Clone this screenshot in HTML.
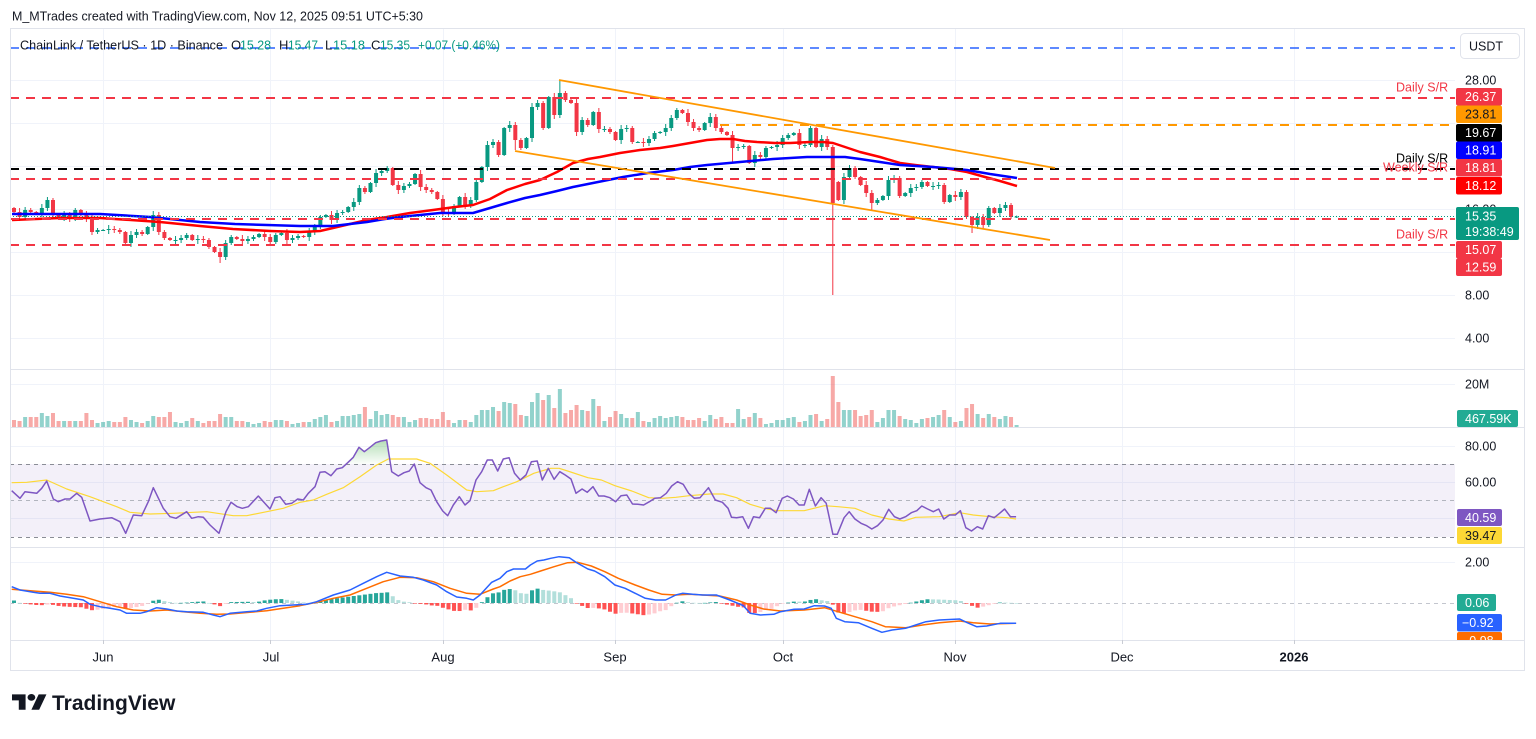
<!DOCTYPE html>
<html><head><meta charset="utf-8">
<style>
html,body{margin:0;padding:0;background:#fff;}
body{width:1536px;height:734px;overflow:hidden;}
svg text{font-family:"Liberation Sans",Arial,sans-serif;}
</style></head><body>
<svg id="s" width="1536" height="734" viewBox="0 0 1536 734" xmlns="http://www.w3.org/2000/svg">
<defs>
<linearGradient id="ob" gradientUnits="userSpaceOnUse" x1="0" y1="438" x2="0" y2="464">
<stop offset="0" stop-color="#4caf50" stop-opacity="0.45"/><stop offset="1" stop-color="#4caf50" stop-opacity="0.02"/>
</linearGradient>
<clipPath id="plot"><rect x="10" y="28" width="1445" height="612"/></clipPath>
<clipPath id="axclip"><rect x="1455" y="28" width="70" height="612"/></clipPath>
</defs>
<rect width="1536" height="734" fill="#fff"/>

<!-- grid -->
<g stroke="#f0f3fa" stroke-width="1">
<path d="M103.5 28V640M270.5 28V640M443.5 28V640M615.5 28V640M783.5 28V640M955.5 28V640M1122.5 28V640M1294.5 28V640"/>
<path d="M10 80.5H1455M10 123.5H1455M10 166.5H1455M10 209.5H1455M10 252.5H1455M10 295.5H1455M10 338.5H1455M10 384.5H1455M10 446.5H1455M10 482.5H1455M10 518.5H1455M10 562.5H1455"/>
</g>
<!-- RSI band -->
<rect x="10" y="464" width="1445" height="73" fill="rgba(126,87,194,0.09)"/>
<g stroke-width="1" stroke-dasharray="4 4">
<line x1="10" y1="464.5" x2="1455" y2="464.5" stroke="#8a8d96"/>
<line x1="10" y1="500.5" x2="1455" y2="500.5" stroke="#b2b5be"/>
<line x1="10" y1="537.5" x2="1455" y2="537.5" stroke="#8a8d96"/>
<line x1="10" y1="603.5" x2="1455" y2="603.5" stroke="#c3c6ce"/>
</g>

<g id="vol"></g>
<g id="candles" clip-path="url(#plot)"></g>

<!-- moving averages -->
<polyline fill="none" stroke="#ff0000" stroke-width="2.5" stroke-linejoin="round" points="12,220 60,218 100,218 160,222 200,226 233,229 270,231 300,232 320,231 333,228 350,224 367,220 387,217 410,213 433,210 455,207 473,205 490,199 507,190 525,184 540,180 557,172 573,163 588,159 600,157 620,153 640,150 660,148 673,146 690,143 707,140 720,139 733,139 745,141 757,142 775,143 790,143 810,142 823,142 833,143 845,147 860,152 880,157 900,163 915,165 933,167 950,169 967,172 985,177 1000,181 1017,186"/>
<polyline fill="none" stroke="#0000ff" stroke-width="2.5" stroke-linejoin="round" points="12,214 60,214 100,214 150,217 200,222 235,224 267,225 300,226 333,226 350,224 367,222 385,219 400,217 420,215 440,213 473,213 490,208 507,203 525,198 540,195 557,191 573,187 598,182 623,177 648,173 673,170 690,167 707,165 740,162 773,159 807,157 830,157 845,157 860,159 880,162 900,165 933,167 967,170 990,174 1017,178"/>

<!-- drawings -->
<g stroke-width="2" stroke-dasharray="9 7" fill="none">
<line x1="10" y1="48" x2="1455" y2="48" stroke="#2962ff" stroke-width="1.6"/>
<line x1="10" y1="98" x2="1455" y2="98" stroke="#f23645"/>
<line x1="720" y1="125" x2="1455" y2="125" stroke="#ff9800"/>
<line x1="10" y1="169" x2="1455" y2="169" stroke="#000"/>
<line x1="10" y1="179" x2="1455" y2="179" stroke="#f23645"/>
<line x1="10" y1="219" x2="1455" y2="219" stroke="#f23645"/>
<line x1="10" y1="245" x2="1455" y2="245" stroke="#f23645"/>
</g>
<line x1="10" y1="216.5" x2="1455" y2="216.5" stroke="#089981" stroke-width="1" stroke-dasharray="1 2"/>
<line x1="559" y1="80" x2="1055" y2="168" stroke="#ff9800" stroke-width="1.8"/>
<line x1="515" y1="151" x2="1050" y2="240" stroke="#ff9800" stroke-width="1.8"/>

<!-- RSI overbought fill -->
<polygon fill="url(#ob)" points="346.5,464 348,462.7 353.3,457.3 359,447.3 364.3,451.7 370,447.3 375.7,442.7 381,441 386.7,440 390.5,464"/>
<g id="ind"></g>

<!-- frame -->
<g stroke="#e0e3eb" stroke-width="1" fill="none">
<path d="M10 28.5H1524.5V670.5H10.5V28.5"/>
<path d="M10 369.5H1524M10 427.5H1524M10 547.5H1524M10 640.5H1524"/>
</g>
<g stroke="#c9ccd4" stroke-width="1">
<path d="M103.5 640v4M270.5 640v4M443.5 640v4M615.5 640v4M783.5 640v4M955.5 640v4M1122.5 640v4M1294.5 640v4"/>
</g>

<!-- header -->
<text x="12" y="20.5" font-size="13" fill="#131722" textLength="411" lengthAdjust="spacingAndGlyphs">M_MTrades created with TradingView.com, Nov 12, 2025 09:51 UTC+5:30</text>
<g font-size="13">
<text x="20" y="49.5" fill="#131722" textLength="203" lengthAdjust="spacingAndGlyphs">ChainLink / TetherUS · 1D · Binance</text>
<text x="231" y="49.5" fill="#131722">O</text>
<text x="240" y="49.5" fill="#089981" textLength="31" lengthAdjust="spacingAndGlyphs">15.28</text>
<text x="279" y="49.5" fill="#131722">H</text>
<text x="288" y="49.5" fill="#089981" textLength="30" lengthAdjust="spacingAndGlyphs">15.47</text>
<text x="325" y="49.5" fill="#131722">L</text>
<text x="333" y="49.5" fill="#089981" textLength="32" lengthAdjust="spacingAndGlyphs">15.18</text>
<text x="371" y="49.5" fill="#131722">C</text>
<text x="380" y="49.5" fill="#089981" textLength="30" lengthAdjust="spacingAndGlyphs">15.35</text>
<text x="418" y="49.5" fill="#089981" textLength="82" lengthAdjust="spacingAndGlyphs">+0.07 (+0.46%)</text>
</g>

<!-- drawing labels -->
<g font-size="12.5">
<text x="1396" y="91.5" fill="#f23645">Daily S/R</text>
<text x="1396" y="162.5" fill="#000">Daily S/R</text>
<text x="1383" y="171.5" fill="#f23645">Weekly S/R</text>
<text x="1396" y="238.5" fill="#f23645">Daily S/R</text>
</g>

<!-- axis -->
<rect x="1460.5" y="33.5" width="59" height="25" rx="4" fill="#fff" stroke="#e0e3eb"/>
<text x="1469" y="50.5" font-size="12.5" fill="#131722">USDT</text>
<g font-size="12.5" fill="#131722">
<text x="1465" y="84.5">28.00</text>
<text x="1465" y="213.5">16.00</text>
<text x="1465" y="299.5">8.00</text>
<text x="1465" y="342.5">4.00</text>
<text x="1465" y="388.5">20M</text>
<text x="1465" y="450.5">80.00</text>
<text x="1465" y="486.5">60.00</text>
<text x="1465" y="566.5">2.00</text>
</g>
<g font-size="12.5">
<rect x="1456" y="88" width="46" height="17.5" rx="2" fill="#f23645"/><text x="1465" y="101" fill="#fff">26.37</text>
<rect x="1456" y="105.5" width="46" height="17.5" rx="2" fill="#ff9800"/><text x="1465" y="118.5" fill="#131722">23.81</text>
<rect x="1456" y="124" width="46" height="17.5" rx="2" fill="#000"/><text x="1465" y="137" fill="#fff">19.67</text>
<rect x="1456" y="141.5" width="46" height="17.5" rx="2" fill="#0000ff"/><text x="1465" y="154.5" fill="#fff">18.91</text>
<rect x="1456" y="159" width="46" height="17.5" rx="2" fill="#f23645"/><text x="1465" y="172" fill="#fff">18.81</text>
<rect x="1456" y="177" width="46" height="17.5" rx="2" fill="#ff0000"/><text x="1465" y="190" fill="#fff">18.12</text>
<rect x="1456" y="207" width="63" height="33" rx="2" fill="#089981"/><text x="1465" y="220.5" fill="#fff">15.35</text><text x="1465" y="236" fill="#fff">19:38:49</text>
<rect x="1456" y="241" width="46" height="17.5" rx="2" fill="#f23645"/><text x="1465" y="254" fill="#fff">15.07</text>
<rect x="1456" y="258.5" width="46" height="17.5" rx="2" fill="#f23645"/><text x="1465" y="271.5" fill="#fff">12.59</text>
<rect x="1457" y="410" width="61" height="17" rx="2" fill="#22ab94"/><text x="1465" y="423" fill="#fff">467.59K</text>
<rect x="1457" y="509" width="45" height="17" rx="2" fill="#7e57c2"/><text x="1465" y="522" fill="#fff">40.59</text>
<rect x="1457" y="527" width="45" height="17" rx="2" fill="#fdd835"/><text x="1465" y="540" fill="#131722">39.47</text>
<rect x="1457" y="594" width="39" height="17" rx="2" fill="#22ab94"/><text x="1465" y="607" fill="#fff">0.06</text>
<rect x="1457" y="614" width="45" height="17.5" rx="2" fill="#2962ff"/><text x="1462" y="627" fill="#fff">−0.92</text>
<g clip-path="url(#axclip)"><rect x="1457" y="632" width="45" height="17.5" rx="2" fill="#ff6d00"/><text x="1462" y="645" fill="#fff">−0.98</text></g>
</g>

<!-- time axis -->
<g font-size="13" fill="#131722" text-anchor="middle">
<text x="103" y="661.5">Jun</text>
<text x="271" y="661.5">Jul</text>
<text x="443" y="661.5">Aug</text>
<text x="615" y="661.5">Sep</text>
<text x="783" y="661.5">Oct</text>
<text x="955" y="661.5">Nov</text>
<text x="1122" y="661.5">Dec</text>
<text x="1294" y="661.5" font-weight="bold">2026</text>
</g>

<!-- logo -->
<g fill="#131722" transform="translate(12,691) scale(0.97,0.85)">
<path d="M14 22H7V11H0V4h14v18zM28 22h-8l7.5-18h8L28 22z"/><circle cx="20" cy="7.5" r="4"/>
</g>
<text x="52" y="710" font-size="21" font-weight="bold" fill="#131722">TradingView</text>
</svg>
<script>
(function(){
var NS='http://www.w3.org/2000/svg';
function mk(p,t,a){var e=document.createElementNS(NS,t);for(var k in a)e.setAttribute(k,a[k]);p.appendChild(e);return e;}
function X(i){return 14+5.57*i;}
var C=[212,217,210,212,213,208,200,215,217,215,
219,210,215,218,232,230,230,229,230,232,
243,235,232,234,227,215,232,238,240,240,
238,235,240,239,240,247,252,257,243,237,
239,241,239,237,234,237,242,235,233,240,
238,236,237,232,227,217,215,220,213,212,
207,202,188,192,183,173,171,168,185,190,
186,184,174,187,190,192,199,212,213,206,
197,205,200,182,167,145,142,155,128,125,
140,148,138,107,103,128,97,115,93,100,
103,132,120,125,112,129,129,132,140,129,
128,142,142,143,139,133,132,128,118,110,
113,122,128,130,123,117,128,132,135,148,
147,146,163,155,157,148,147,145,138,135,
133,145,145,128,147,139,147,203,200,177,
168,177,185,193,203,200,196,180,178,196,
193,188,187,182,186,186,185,202,195,197,
192,217,225,217,225,208,213,208,205,217,216.6];
var O=C.map(function(c,i){return i?C[i-1]:208;});
O[148]=182;
var H={98:80,147:145};
var L={37:263,147:295,129:162,172:233,90:150,154:210};
var V=[7,6,10,10,10,14,11,14,6,6,6,6,6,14,7,4,
5,6,5,5,10,7,5,4,6,11, 10,10,15,5,4,6,9,6,4,6, 6,13,10,10,6,6,5,3,4,6, 5,7,7,6,3,4,5,5,8,10,
12,5,6,11,11,12,13,20,8,16, 12,13,12,10,10,5,7,9,9,8, 8,15,7,4,7,7,5,12,17,17, 20,16,
25,24,23,12,11,25,34,27,32,19, 38,14,17,22,17,16,28,21,6,10, 16,13,9,9,15,6,5,9,11,9, 10,11,10,7,7,9,6,12,8,10, 4,4,18,8,10,14,9,3,4,7, 7,9,10,5,6,12,13,6,8,51,
25,17,17,17,11,12,17,5,9,17, 17,11,8,7,4,8,9,10,12,17, 10,5,6,19,23,13,9,13,10,8, 11,10,2];
var gC=document.getElementById('candles'),gV=document.getElementById('vol');
for(var i=0;i<C.length;i++){
 var o=O[i],c=C[i],up=c<=o;
 var col=up?'#089981':'#f23645';
 var top=Math.min(o,c),bot=Math.max(o,c);
 var hi=(H[i]!==undefined)?H[i]:top-(1+(i*7)%4);
 var lo=(L[i]!==undefined)?L[i]:bot+(1+(i*11)%4);
 var x=X(i);
 mk(gC,'rect',{x:(x-0.5).toFixed(2),y:hi,width:1,height:(lo-hi).toFixed(2),fill:col});
 mk(gC,'rect',{x:(x-2).toFixed(2),y:top,width:4,height:Math.max(1,bot-top).toFixed(2),fill:col});
 var h=V[i]||3;
 mk(gV,'rect',{x:(x-2).toFixed(2),y:427-h,width:4,height:h,fill:up?'rgba(38,166,154,0.5)':'rgba(239,83,80,0.5)'});
}
function pts(z8,z9,cut){var a=[];z8.forEach(function(p){var x=p[0]/3;if(x<cut)a.push([x,365+p[1]/3]);});z9.forEach(function(p){var x=500+p[0]*0.338;if(x>=cut)a.push([x,365+p[1]/3]);});return a;}
function poly(g,a,col,w){mk(g,'polyline',{points:a.map(function(p){return p[0].toFixed(1)+','+p[1].toFixed(1);}).join(' '),fill:'none',stroke:col,'stroke-width':w,'stroke-linejoin':'round'});}
function interp(a,x){if(x<=a[0][0])return a[0][1];for(var k=1;k<a.length;k++){if(x<=a[k][0]){var t=(x-a[k-1][0])/(a[k][0]-a[k-1][0]);return a[k-1][1]+t*(a[k][1]-a[k-1][1]);}}return a[a.length-1][1];}
var g=document.getElementById('ind');
var rsi=pts([[35,377],[60,400],[75,380],[110,385],[125,370],[140,348],[160,402],[175,410],[195,402],[210,402],[230,385],[245,397],[270,468],[300,462],[335,458],[360,470],[377,505],[400,450],[425,452],[445,410],[460,368],[490,430],[510,455],[528,460],[560,440],[575,460],[595,455],[610,457],[630,480],[657,505],[678,440],[693,412],[712,425],[727,430],[745,425],[775,393],[810,432],[825,398],[840,395],[857,418],[875,415],[893,402],[910,405],[925,385],[945,365],[960,322],[975,320],[993,332],[1010,312],[1027,308],[1043,293],[1060,277],[1077,247],[1093,260],[1110,247],[1127,233],[1143,228],[1160,225],[1175,320],[1195,333],[1212,323],[1228,318],[1243,297],[1260,353],[1278,368],[1293,375],[1310,410],[1328,438],[1343,452],[1360,420],[1378,395],[1395,420],[1410,407],[1428,345],[1445,320],[1462,285],[1477,285],[1493,318],[1510,282]],
[[27,278],[43,325],[60,345],[77,330],[93,290],[110,288],[125,345],[143,310],[160,343],[177,320],[193,330],[210,342],[225,385],[243,372],[258,382],[275,365],[292,393],[308,393],[325,398],[342,410],[358,392],[375,390],[392,417],[408,418],[425,420],[442,410],[458,400],[475,398],[492,385],[508,363],[525,350],[542,358],[558,385],[575,400],[592,398],[617,368],[637,405],[658,412],[675,430],[685,457],[700,458],[718,455],[735,490],[750,455],[768,458],[785,430],[800,430],[817,443],[835,400],[850,393],[868,402],[885,420],[900,420],[915,373],[933,423],[950,398],[965,415],[985,508],[998,508],[1018,458],[1033,440],[1050,462],[1068,475],[1085,482],[1100,492],[1117,482],[1133,465],[1150,433],[1167,455],[1183,462],[1200,455],[1217,443],[1233,437],[1248,423],[1265,432],[1282,440],[1298,432],[1313,462],[1330,450],[1347,450],[1362,437],[1378,488],[1395,498],[1412,485],[1428,492],[1445,452],[1462,458],[1478,445],[1493,432],[1510,455],[1527,455]],505);
var rma=pts([[35,353],[80,352],[140,345],[200,372],[270,395],[350,425],[390,442],[450,447],[520,445],[580,442],[620,440],[700,452],[740,452],[800,440],[850,430],[900,412],[940,405],[980,388],[1030,368],[1080,335],[1130,300],[1165,282],[1200,282],[1250,282],[1290,295],[1340,330],[1400,375],[1430,380],[1480,377],[1510,365]],
[[50,350],[100,325],[150,310],[175,310],[200,318],[260,338],[300,345],[340,362],[390,378],[440,398],[480,400],[520,397],[560,392],[620,387],[660,387],[700,398],[740,418],[780,430],[820,437],[900,437],[960,422],[1000,425],[1050,430],[1100,450],[1150,462],[1195,468],[1230,457],[1300,455],[1360,443],[1400,450],[1450,455],[1500,458],[1527,462]],505);
poly(g,rma,'#fdd835',1.2);
poly(g,rsi,'#7e57c2',1.5);
var mac=pts([[35,665],[60,675],[100,682],[120,685],[150,685],[180,693],[220,700],[250,705],[270,718],[300,725],[330,730],[360,735],[380,745],[420,745],[440,740],[470,728],[500,732],[530,738],[560,740],[610,742],[640,750],[660,755],[690,745],[740,740],[770,738],[800,730],[840,722],[880,720],[920,718],[950,710],[1000,690],[1050,675],[1090,655],[1130,635],[1160,622],[1200,633],[1240,637],[1270,645],[1310,660],[1340,680],[1370,696],[1400,700],[1420,705],[1440,690],[1475,652],[1500,640]],
[[20,620],[40,612],[75,612],[90,600],[110,588],[130,585],[150,580],[175,575],[205,578],[225,592],[260,612],[280,618],[310,635],[340,660],[370,670],[400,685],[430,700],[460,705],[490,705],[520,690],[540,685],[570,688],[600,690],[640,690],[680,705],[720,722],[740,745],[770,750],[810,748],[830,740],[870,733],[900,732],[930,722],[960,723],[980,730],[995,760],[1020,770],[1060,773],[1100,790],[1130,802],[1160,795],[1200,790],[1230,780],[1260,770],[1300,765],[1360,762],[1380,772],[1410,785],[1440,783],[1480,775],[1527,775]],505);
var sig=pts([[35,673],[100,678],[150,682],[200,688],[250,695],[300,710],[350,725],[400,735],[450,738],[500,735],[550,740],[600,745],[650,748],[690,747],[750,742],[800,737],[850,730],[900,722],[950,712],[1000,700],[1050,690],[1100,670],[1150,650],[1200,637],[1250,638],[1300,650],[1350,670],[1400,685],[1440,688],[1480,672],[1500,665]],
[[30,648],[60,635],[90,628],[120,618],[160,605],[200,593],[230,592],[270,603],[310,620],[350,640],[400,660],[440,675],[480,688],[520,690],[560,688],[600,690],[650,693],[700,705],[740,720],[780,732],[830,738],[900,735],[960,728],[1000,740],[1050,755],[1100,770],[1140,785],[1200,788],[1250,780],[1300,773],[1360,768],[1400,773],[1450,777],[1527,775]],505);
var prev=0;
for(var j=0;j<C.length;j++){
 var xx=X(j);
 var hh=(interp(sig,xx)-interp(mac,xx))*1.3;
 var cc;
 if(hh>=0)cc=(hh>=prev)?'#26a69a':'#b2dfdb'; else cc=(hh<=prev)?'#ff5252':'#ffcdd2';
 prev=hh;
 mk(g,'rect',{x:(xx-2).toFixed(2),y:(hh>=0?603-hh:603).toFixed(2),width:4,height:Math.max(0.6,Math.abs(hh)).toFixed(2),fill:cc});
}
poly(g,sig,'#ff6d00',1.5);
poly(g,mac,'#2962ff',1.5);
})();
</script>
</body></html>
